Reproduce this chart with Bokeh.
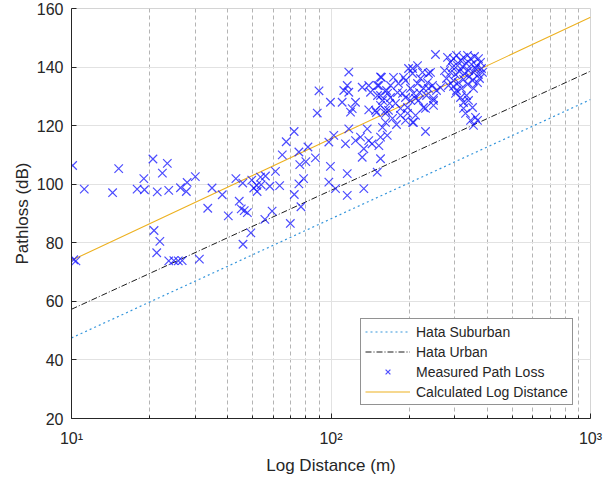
from bokeh.plotting import figure
from bokeh.models import Range1d, Legend, LegendItem, FixedTicker
from bokeh.embed import file_html
from bokeh.resources import INLINE

# ---- data ----
line_dist = [10, 100, 1000]
hata_suburban = [47.5, 88.2, 128.9]
hata_urban = [57.3, 97.9, 138.6]
calc_log_dist = [74.0, 115.5, 157.0]

meas_dist = [
    10.1, 11.2, 10.4, 10.2, 14.4, 15.2, 17.9, 19.1, 19.0, 20.6, 21.4, 22.4, 23.4, 23.7,
    26.3, 27.7, 27.9, 30.0, 33.5, 34.8, 38.1, 40.2, 43.0, 44.3, 45.7, 45.1, 46.3, 47.6,
    49.1, 49.5, 50.4, 51.9, 51.7, 53.5, 53.8, 55.9, 55.6, 58.1, 59.3, 61.1, 63.4, 64.9,
    67.2, 69.7, 72.1, 72.2, 75.2, 75.2, 75.8, 76.6, 78.4, 80.0, 81.5, 87.1, 89.9, 88.5,
    20.8, 21.3, 21.9, 23.7, 24.8, 25.8, 26.7, 31.1, 45.8,
    117.1, 112.0, 115.5, 117.1, 131.9, 139.8, 142.0, 155.2, 152.9, 99.5, 110.4, 124.3,
    118.9, 120.7, 139.8, 151.1, 157.9, 165.1, 155.2, 162.2, 168.1, 149.7,
    98.1, 102.5, 117.1, 124.3, 113.7, 137.9, 139.8, 133.8, 155.2, 152.9, 164.7,
    99.5, 115.5, 155.2, 150.7, 98.1, 104.1, 115.5, 133.8, 129.9, 143.9, 131.9,
    156.5, 151.1, 169.6, 180.4, 190.3, 206.2, 193.7, 177.3, 162.2, 148.4, 157.9, 162.2,
    193.7, 197.2, 185.3, 208.0, 163.7, 169.6, 166.6, 185.3, 193.7, 199.0, 215.5, 225.2,
    241.8, 235.4, 215.5, 227.3, 237.5, 246.1, 208.0, 217.4, 197.2, 211.7, 248.3, 227.3,
    248.3, 211.7, 206.2, 231.3, 248.3, 221.3, 237.5, 206.2, 182.0, 174.1, 202.5, 188.6,
    172.6, 155.2, 178.8, 219.3, 233.3, 202.5, 255.0, 264.2, 231.3,
    252.7, 281.2, 278.7, 288.7, 296.5, 304.5, 315.6, 324.1, 335.8, 344.9, 357.3, 370.2,
    376.8, 293.9, 307.2, 321.2, 332.9, 347.9, 363.7, 380.2, 288.7, 301.8, 312.7, 327.0,
    338.8, 354.2, 370.2, 383.5, 296.5, 310.0, 324.1, 335.8, 351.1, 366.9, 304.5, 315.6,
    324.1, 324.1, 354.2, 351.1, 360.5, 366.9, 344.9, 354.2, 296.5, 301.8, 332.9, 318.4,
    341.8, 360.5, 373.5, 283.7, 273.8, 329.9, 338.8,
]
meas_loss = [
    106.4, 98.3, 73.8, 74.2, 97.1, 105.3, 98.3, 98.1, 101.9, 108.6, 97.4, 103.8, 107.1, 97.9,
    98.8, 97.5, 100.6, 102.6, 91.8, 98.7, 96.4, 89.2, 101.9, 94.2, 100.4, 91.6, 91.0, 90.3,
    83.4, 101.4, 98.7, 97.5, 99.6, 102.4, 99.8, 102.8, 88.0, 99.3, 90.8, 104.4, 99.5, 110.0,
    114.5, 86.6, 118.0, 96.5, 111.0, 100.1, 106.7, 92.3, 101.9, 107.7, 112.7, 109.0, 131.9, 124.3,
    84.2, 76.6, 80.5, 73.8, 73.9, 73.8, 73.9, 74.4, 79.5,
    138.3, 132.0, 133.7, 131.4, 133.1, 133.7, 131.4, 136.6, 133.7, 128.0, 128.0, 128.0,
    124.6, 125.8, 125.4, 130.3, 128.6, 131.0, 126.9, 125.2, 127.6, 124.5,
    114.4, 116.7, 118.9, 114.9, 113.8, 118.9, 114.9, 112.1, 116.1, 113.2, 116.7,
    106.1, 103.6, 108.7, 104.1, 100.7, 98.5, 96.2, 98.5, 116.1, 113.8, 109.2,
    136.5, 133.7, 133.7, 131.3, 136.5, 139.5, 129.6, 127.6, 124.2, 125.2, 119.4, 121.1,
    121.8, 124.2, 123.5, 121.1, 132.0, 129.6, 125.2, 125.9, 135.4, 139.5, 140.5, 138.2,
    138.2, 134.7, 134.4, 132.7, 132.7, 133.7, 131.0, 128.6, 126.2, 129.3, 128.6, 126.2,
    126.9, 123.5, 121.1, 125.9, 129.3, 136.1, 137.8, 137.8, 134.4, 136.5, 132.7, 131.0,
    122.5, 130.3, 120.4, 131.3, 130.3, 128.6, 132.0, 133.0, 118.0,
    144.3, 143.3, 136.1, 141.6, 142.9, 144.0, 142.3, 143.3, 144.0, 142.9, 143.6, 142.9,
    141.6, 139.9, 140.5, 140.2, 141.2, 140.9, 140.5, 139.5, 138.2, 137.5, 138.5, 137.8,
    138.8, 138.2, 137.5, 138.2, 135.4, 134.7, 135.8, 134.1, 135.4, 134.7, 132.0, 129.6,
    127.9, 125.9, 132.7, 126.2, 122.8, 121.8, 121.8, 120.1, 133.4, 131.0, 130.3, 132.7,
    136.8, 139.5, 136.1, 133.7, 138.8, 124.2, 128.6,
]

y_ticks = [20, 40, 60, 80, 100, 120, 140, 160]
x_major_ticks = [10, 100, 1000]
x_minor_ticks = [20, 30, 40, 50, 60, 70, 80, 90, 200, 300, 400, 500, 600, 700, 800, 900]
x_tick_labels = {10: "10\u00b9", 100: "10\u00b2", 1000: "10\u00b3"}

FONT = "Liberation Sans"
TXT = "#262626"

p = figure(
    x_axis_type="log",
    x_range=Range1d(10, 1000),
    y_range=Range1d(20, 160),
    frame_width=519, frame_height=410,
    min_border_left=71, min_border_right=21,
    min_border_top=8, min_border_bottom=62,
    output_backend="svg", toolbar_location=None,
    background_fill_color="white", border_fill_color="white",
)
p.outline_line_color = "#d4d4d4"
p.outline_line_width = 1

x_ticker = FixedTicker(ticks=x_major_ticks, minor_ticks=x_minor_ticks)

# grids
p.xgrid.ticker = x_ticker
p.xgrid.grid_line_color = "#e2e2e2"
p.xgrid.minor_grid_line_color = "#b4b4b4"
p.xgrid.minor_grid_line_dash = "4 3"
p.ygrid.grid_line_color = "#e2e2e2"
p.ygrid.ticker = FixedTicker(ticks=y_ticks)

# axes
p.xaxis.ticker = x_ticker
p.xaxis.major_label_overrides = x_tick_labels
p.yaxis.ticker = FixedTicker(ticks=y_ticks)
for ax in (p.xaxis[0], p.yaxis[0]):
    ax.axis_line_color = TXT
    ax.axis_line_width = 1
    ax.major_tick_line_color = TXT
    ax.major_tick_in = 5
    ax.major_tick_out = 0
    ax.major_label_text_font = FONT
    ax.major_label_text_font_size = "16px"
    ax.major_label_text_color = TXT
    ax.axis_label_text_font = FONT
    ax.axis_label_text_font_size = "17px"
    ax.axis_label_text_font_style = "normal"
    ax.axis_label_text_color = TXT
p.xaxis.minor_tick_line_color = TXT
p.xaxis.minor_tick_in = 3
p.xaxis.minor_tick_out = 0
p.yaxis.minor_tick_line_color = None
p.xaxis.axis_label = "Log Distance (m)"
p.yaxis.axis_label = "Pathloss (dB)"
p.xaxis.major_label_standoff = 11
p.yaxis.major_label_standoff = 8
p.xaxis.axis_label_standoff = 6
p.yaxis.axis_label_standoff = 2

# series
r_sub = p.line(line_dist, hata_suburban, line_color="#3596dc", line_width=1.2,
               line_dash="2 3")
r_urb = p.line(line_dist, hata_urban, line_color="#1a1a1a", line_width=1,
               line_dash="6 2 1 2")
r_calc = p.line(line_dist, calc_log_dist, line_color="#edb120", line_width=1.1)
r_meas = p.scatter(meas_dist, meas_loss, marker="x", size=12, line_color="#1010ff",
                   line_alpha=0.75, line_width=1.2)

legend = Legend(items=[
    LegendItem(label="Hata Suburban", renderers=[r_sub]),
    LegendItem(label="Hata Urban", renderers=[r_urb]),
    LegendItem(label="Measured Path Loss", renderers=[r_meas]),
    LegendItem(label="Calculated Log Distance", renderers=[r_calc]),
], location=(289, 13))
legend.border_line_color = TXT
legend.border_line_width = 1
legend.background_fill_color = "white"
legend.background_fill_alpha = 1
legend.label_text_font = FONT
legend.label_text_font_size = "14px"
legend.label_text_color = TXT
legend.glyph_width = 45
legend.glyph_height = 17
legend.label_height = 17
legend.spacing = 3
legend.padding = 4
legend.margin = 0
legend.label_standoff = 6
p.add_layout(legend)

open("out.html", "w").write(file_html(p, INLINE))
